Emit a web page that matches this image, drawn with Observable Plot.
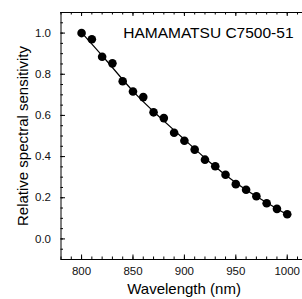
<!DOCTYPE html>
<html>
<head>
<meta charset="utf-8">
<script src="https://cdn.jsdelivr.net/npm/d3@7"></script>
<script src="https://cdn.jsdelivr.net/npm/@observablehq/plot@0.6"></script>
<style>
  html, body { margin: 0; padding: 0; background: #fff; overflow: hidden; }
  #chart svg { overflow: hidden; }
</style>
</head>
<body>
<div id="chart"></div>
<script>
// Measured data points
const wavelength = [800, 810, 820, 830, 840, 850, 860, 870, 880, 890, 900, 910, 920, 930, 940, 950, 960, 970, 980, 990, 1000];
const sensitivity = [1.000, 0.970, 0.885, 0.853, 0.766, 0.716, 0.689, 0.615, 0.587, 0.516, 0.477, 0.434, 0.385, 0.353, 0.312, 0.266, 0.239, 0.207, 0.173, 0.146, 0.120];

// Fitted curve
const fitWavelength = [800, 825, 850, 875, 900, 925, 950, 975, 1000];
const fitSensitivity = [1.003, 0.862, 0.718, 0.596, 0.483, 0.371, 0.273, 0.191, 0.117];

// Axis ticks
const xTicks = [800, 850, 900, 950, 1000];
const yTicks = [0.0, 0.2, 0.4, 0.6, 0.8, 1.0];
const xMinorTicks = [780, 790, 800, 810, 820, 830, 840, 850, 860, 870, 880, 890, 900, 910, 920, 930, 940, 950, 960, 970, 980, 990, 1000, 1010, 1020];
const yMinorTicks = [-0.1, -0.05, 0.0, 0.05, 0.1, 0.15, 0.2, 0.25, 0.3, 0.35, 0.4, 0.45, 0.5, 0.55, 0.6, 0.65, 0.7, 0.75, 0.8, 0.85, 0.9, 0.95, 1.0, 1.05, 1.1];

const title = "HAMAMATSU C7500-51";
const xLabel = "Wavelength (nm)";
const yLabel = "Relative spectral sensitivity";

const points = wavelength.map((w, i) => ({w, s: sensitivity[i]}));
const fit = fitWavelength.map((w, i) => ({w, s: fitSensitivity[i]}));

const W = 302, H = 299;
const mL = 60.5, mT = 12, mB = 40, mR = 0;
const plotH = H - mT - mB;
const plotW = W - mL - mR;

const chart = Plot.plot({
  width: W,
  height: H,
  marginLeft: mL,
  marginRight: mR,
  marginTop: mT,
  marginBottom: mB,
  style: {fontFamily: "Liberation Sans, Arial, sans-serif", fontSize: "11.5px", color: "#111", background: "#fff", overflow: "hidden"},
  x: {domain: [780, 1020], range: [mL, 307.3], ticks: xTicks, tickSize: 0, tickPadding: 7.5, tickFormat: d => String(d), label: null},
  y: {domain: [-0.1, 1.1], ticks: yTicks, tickSize: 0, tickPadding: 10, tickFormat: d3.format(".1f"), label: null},
  marks: [
    // frame lines (left, bottom, top)
    Plot.ruleX([780], {stroke: "black", strokeWidth: 1}),
    Plot.ruleY([-0.1], {stroke: "black", strokeWidth: 1}),
    Plot.ruleY([1.1], {stroke: "black", strokeWidth: 1}),
    // bottom ticks (inward)
    Plot.tickX(xMinorTicks, {x: d => d, insetTop: plotH - 2.5, stroke: "black"}),
    Plot.tickX(xTicks, {x: d => d, insetTop: plotH - 4.5, stroke: "black"}),
    // top ticks (inward)
    Plot.tickX(xMinorTicks, {x: d => d, insetBottom: plotH - 2.5, stroke: "black"}),
    Plot.tickX(xTicks, {x: d => d, insetBottom: plotH - 4, stroke: "black"}),
    // left ticks (inward)
    Plot.tickY(yMinorTicks, {y: d => d, insetRight: plotW - 2.5, stroke: "black"}),
    Plot.tickY(yTicks, {y: d => d, insetRight: plotW - 4.5, stroke: "black"}),
    // fitted curve
    Plot.line(fit, {x: "w", y: "s", curve: "natural", stroke: "black", strokeWidth: 1.2}),
    // data points
    Plot.dot(points, {x: "w", y: "s", r: 4.3, fill: "black", stroke: "none"}),
    // title
    Plot.text([title], {text: d => d, frameAnchor: "top-right", textAnchor: "end", lineAnchor: "middle", dx: -9, dy: 21, fontSize: 15.5, fill: "black"}),
    // x label
    Plot.text([xLabel], {text: d => d, frameAnchor: "bottom", textAnchor: "middle", lineAnchor: "middle", dx: 2.3, dy: 29.5, fontSize: 15, fill: "black"}),
    // y label
    Plot.text([yLabel], {text: d => d, frameAnchor: "left", textAnchor: "middle", rotate: -90, lineAnchor: "middle", dx: -38.3, fontSize: 15, fill: "black"})
  ]
});

document.getElementById("chart").appendChild(chart);
</script>
</body>
</html>
